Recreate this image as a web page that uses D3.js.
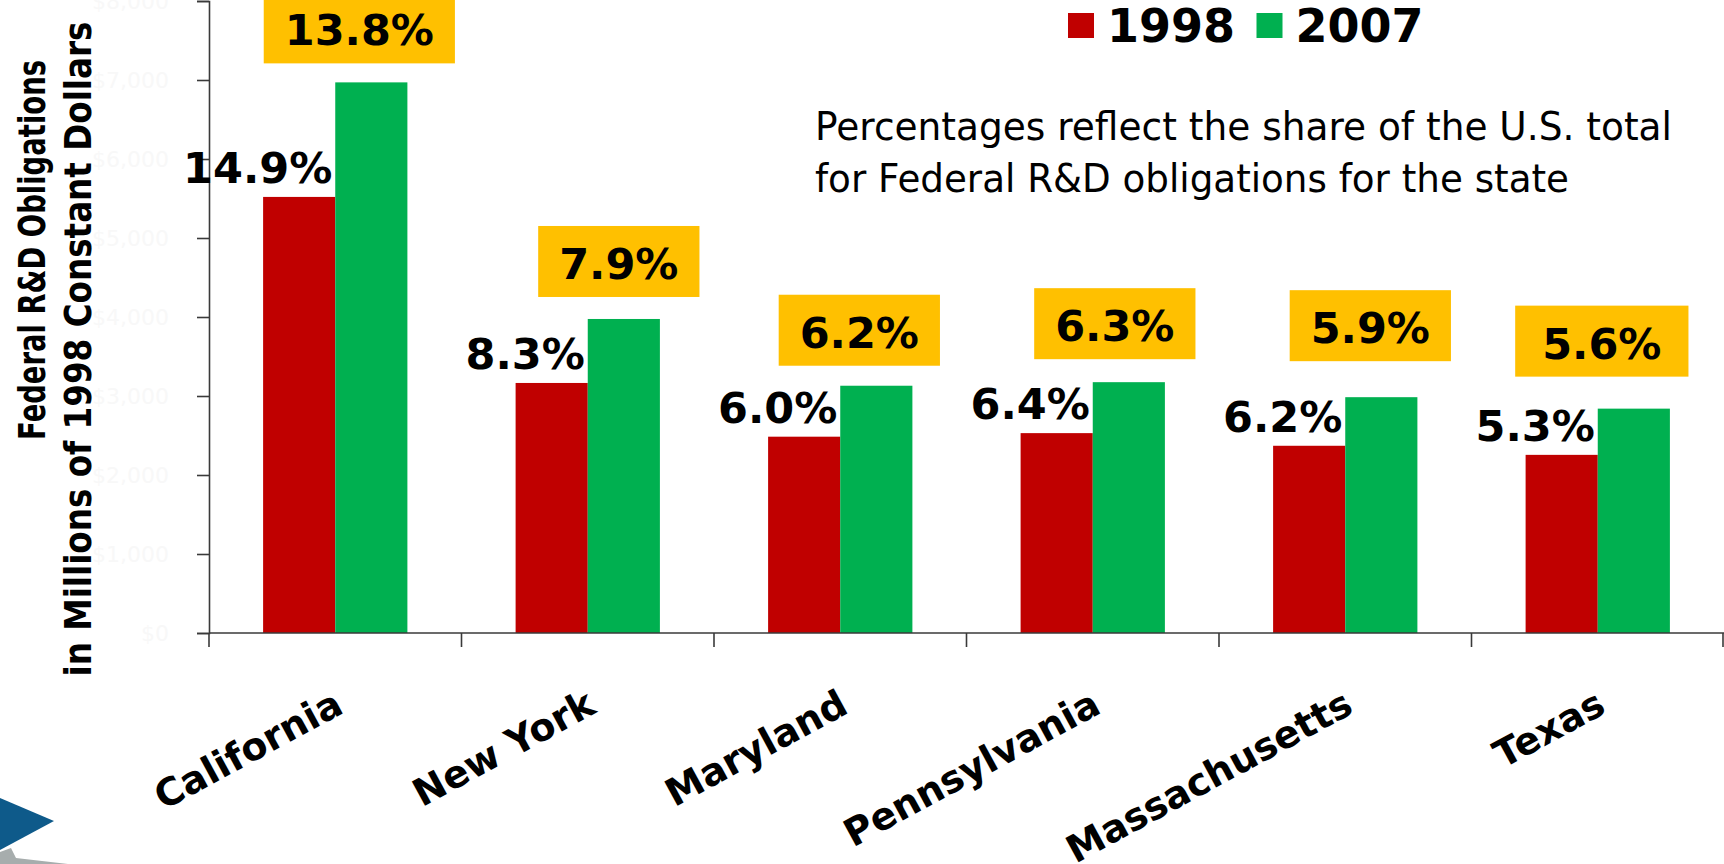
<!DOCTYPE html>
<html>
<head>
<meta charset="utf-8">
<script src="https://cdn.jsdelivr.net/npm/d3@7"></script>
<style>
  body { margin: 0; background: #fff; }
  svg { display: block; }
</style>
</head>
<body>
<svg id="chart" width="1724" height="864"></svg>
<script>
// data (millions of 1998 constant dollars)
var states = ["California", "New York", "Maryland", "Pennsylvania", "Massachusetts", "Texas"];
var years = ["1998", "2007"];
var obligations1998 = [5520, 3165, 2485, 2530, 2370, 2255];
var obligations2007 = [6970, 3975, 3130, 3175, 2985, 2840];
var share1998 = ["14.9%", "8.3%", "6.0%", "6.4%", "6.2%", "5.3%"];
var share2007 = ["13.8%", "7.9%", "6.2%", "6.3%", "5.9%", "5.6%"];
var yTicks = [0, 1000, 2000, 3000, 4000, 5000, 6000, 7000, 8000];

//small hand placement of the yellow boxes, like on the slide [dx, dy, extra width]
var boxNudge = [[-12, 3, 0], [-5, 0, 0], [-17, 2, 0], [-14, -1, 0], [-11, -14, 0], [-32, -10, 12]];

var colors = { "1998": "#C00000", "2007": "#00B050" };
var boldFont = "'DejaVu Sans', Verdana, sans-serif";

var svg = d3.select("#chart");
svg.append("rect").attr("width", 1724).attr("height", 864).attr("fill", "#fff");

var baseY = 633;

//outer scale: one band per state, axis ticks sit on band borders
var x0 = d3.scaleBand()
    .domain(states)
    .range([209, 1724])
    .padding(0);

//inner scale: the two years inside a band
var x1 = d3.scaleBand()
    .domain(years)
    .range([0, x0.bandwidth()])
    .paddingInner(0)
    .paddingOuter(0.75);

var y = d3.scaleLinear()
    .domain([0, 8000])
    .range([baseY, 1]);

var rows = states.map(function(s, i) {
    return { state: s, v1998: obligations1998[i], v2007: obligations2007[i],
             s1998: share1998[i], s2007: share2007[i], i: i };
});

//y axis (labels are almost white on the original)
var yAxis = svg.append("g")
    .attr("transform", "translate(209,0)")
    .call(d3.axisLeft(y)
        .tickValues(yTicks)
        .tickSize(12)
        .tickPadding(28)
        .tickFormat(d3.format("$,")));
yAxis.select(".domain").attr("stroke", "#3a3a3a").attr("stroke-width", 1.6);
yAxis.selectAll(".tick line").attr("stroke", "#3a3a3a").attr("stroke-width", 1.6);
yAxis.selectAll(".tick text")
    .attr("fill", "#f8f8f8")
    .style("font-family", boldFont)
    .style("font-size", "22px");

//bars
var group = svg.append("g").selectAll("g")
    .data(rows)
    .enter().append("g")
    .attr("transform", function(d) { return "translate(" + x0(d.state) + ",0)"; });

group.selectAll("rect")
    .data(function(d) { return years.map(function(k) { return { year: k, value: d["v" + k] }; }); })
    .enter().append("rect")
    .attr("x", function(d) { return x1(d.year); })
    .attr("width", x1.bandwidth())
    .attr("y", function(d) { return y(d.value); })
    .attr("height", function(d) { return baseY - y(d.value); })
    .attr("fill", function(d) { return colors[d.year]; });

//x axis line and ticks on band borders
var xAxis = svg.append("g");
xAxis.append("line")
    .attr("x1", 209).attr("x2", 1724)
    .attr("y1", baseY).attr("y2", baseY)
    .attr("stroke", "#3a3a3a").attr("stroke-width", 1.6);
xAxis.selectAll(".xtick")
    .data(states.concat(["end"]))
    .enter().append("line")
    .attr("class", "xtick")
    .attr("x1", function(d) { return d == "end" ? 1723 : x0(d); })
    .attr("x2", function(d) { return d == "end" ? 1723 : x0(d); })
    .attr("y1", baseY).attr("y2", baseY + 14)
    .attr("stroke", "#3a3a3a").attr("stroke-width", 1.6);

//state names, slanted
xAxis.selectAll(".xlabel")
    .data(states)
    .enter().append("text")
    .attr("class", "xlabel")
    .attr("transform", function(d) {
        return "translate(" + (x0(d) + x0.bandwidth() / 2 + 10) + "," + 712 + ") rotate(-28.5)";
    })
    .attr("text-anchor", "end")
    .style("font-family", boldFont)
    .style("font-weight", "bold")
    .style("font-size", "38px")
    .attr("fill", "#000")
    .text(function(d) { return d; });

//1998 share labels next to the red bar
svg.append("g").selectAll("text")
    .data(rows)
    .enter().append("text")
    .attr("x", function(d) { return x0(d.state) + x1("1998") + x1.bandwidth() - 3; })
    .attr("y", function(d) { return y(d.v1998) - 14; })
    .attr("text-anchor", "end")
    .style("font-family", boldFont)
    .style("font-weight", "bold")
    .style("font-size", "43px")
    .text(function(d) { return d.s1998; });

//2007 share labels in yellow boxes above the green bar
var boxH = 71;
var boxes = svg.append("g").selectAll("g")
    .data(rows)
    .enter().append("g")
    .attr("transform", function(d) {
        var cx = x0(d.state) + x1("2007") + x1.bandwidth() / 2 + boxNudge[d.i][0];
        var top = y(d.v2007) - 22 - boxH + boxNudge[d.i][1];
        return "translate(" + cx + "," + top + ")";
    });

boxes.append("text")
    .attr("x", 0)
    .attr("y", 53)
    .attr("text-anchor", "middle")
    .style("font-family", boldFont)
    .style("font-weight", "bold")
    .style("font-size", "43px")
    .text(function(d) { return d.s2007; });

boxes.each(function(d) {
    var g = d3.select(this);
    var w = g.select("text").node().getComputedTextLength() + 42 + boxNudge[d.i][2];
    g.insert("rect", "text")
        .attr("x", -w / 2)
        .attr("y", 0)
        .attr("width", w)
        .attr("height", boxH)
        .attr("fill", "#FFC000");
});

//legend
var legend = svg.append("g").selectAll("g")
    .data(years)
    .enter().append("g")
    .attr("transform", function(d, i) { return "translate(" + (1068 + i * 188.5) + ",0)"; });
legend.append("rect")
    .attr("x", 0).attr("y", 13)
    .attr("width", 26).attr("height", 25)
    .attr("fill", function(d) { return colors[d]; });
legend.append("text")
    .attr("x", 39).attr("y", 42)
    .style("font-family", boldFont)
    .style("font-weight", "bold")
    .style("font-size", "46px")
    .text(function(d) { return d; });

//note
var note = svg.append("text")
    .style("font-family", "'DejaVu Sans', Tahoma, sans-serif")
    .style("font-size", "39px")
    .attr("fill", "#000");
note.append("tspan").attr("x", 815).attr("y", 140)
    .attr("textLength", 857).attr("lengthAdjust", "spacingAndGlyphs")
    .text("Percentages reflect the share of the U.S. total");
note.append("tspan").attr("x", 815).attr("y", 192)
    .attr("textLength", 754).attr("lengthAdjust", "spacingAndGlyphs")
    .text("for Federal R&D obligations for the state");

//y axis title
var title = svg.append("g");
title.append("text")
    .attr("transform", "translate(45,250) rotate(-90)")
    .attr("text-anchor", "middle")
    .attr("textLength", 380).attr("lengthAdjust", "spacingAndGlyphs")
    .style("font-family", boldFont)
    .style("font-weight", "bold")
    .style("font-size", "38px")
    .text("Federal R&D Obligations");
title.append("text")
    .attr("transform", "translate(91,349) rotate(-90)")
    .attr("text-anchor", "middle")
    .attr("textLength", 655).attr("lengthAdjust", "spacingAndGlyphs")
    .style("font-family", boldFont)
    .style("font-weight", "bold")
    .style("font-size", "38px")
    .text("in Millions of 1998 Constant Dollars");

//corner of the logo
svg.append("path")
    .attr("d", "M0,864 L0,852 L11,848 L16,858 L68,864 Z")
    .attr("fill", "#a7adad");
svg.append("path")
    .attr("d", "M0,798 L54,821 L0,850 Z")
    .attr("fill", "#0e5a8a");
</script>
</body>
</html>
